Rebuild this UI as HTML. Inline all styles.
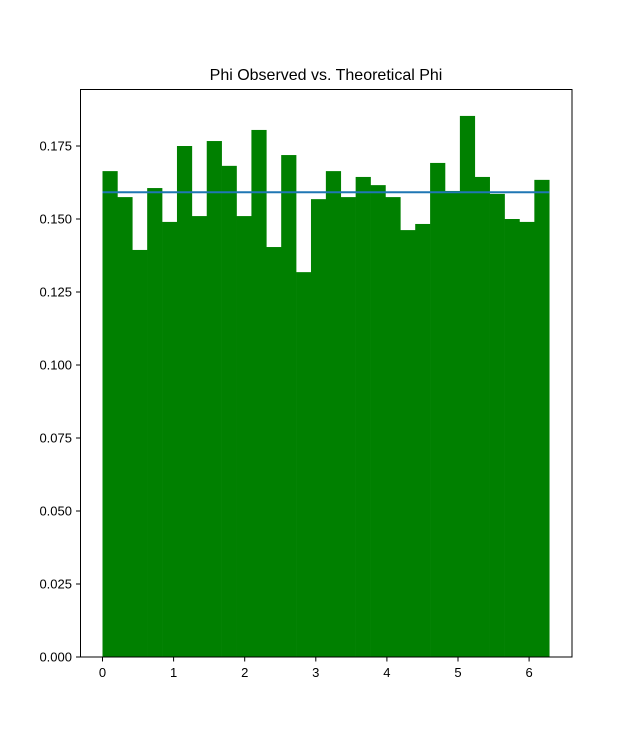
<!DOCTYPE html>
<html><head><meta charset="utf-8"><style>
body{margin:0;background:#fff;}
svg text{font-family:"Liberation Sans","DejaVu Sans",sans-serif;}
</style></head><body>
<svg id="chart" width="636" height="738" xmlns="http://www.w3.org/2000/svg">
<rect width="636" height="738" fill="#fff"/>
<text x="326" y="80" font-size="16" text-anchor="middle">Phi Observed vs. Theoretical Phi</text>
<g id="bars"></g>
<g id="ticks"></g>
<line id="theory" stroke="#1f77b4" stroke-width="2"/>
<rect x="80.5" y="89.5" width="491.5" height="567.5" fill="none" stroke="#000" stroke-width="1"/>
</svg>
<script>
const binCount = 30;
const xMax = 2*Math.PI;
const densities = [0.1664,0.1575,0.1394,0.1606,0.1490,0.1750,0.1510,0.1767,0.1682,0.1510,0.1805,0.1404,0.1719,0.1318,0.1568,0.1664,0.1575,0.1644,0.1616,0.1575,0.1462,0.1483,0.1692,0.1596,0.1853,0.1644,0.1586,0.1500,0.1490,0.1634];
const theoretical = [1/(2*Math.PI)];
const xTicks = [0,1,2,3,4,5,6];
const yTicks = [0,0.025,0.05,0.075,0.1,0.125,0.15,0.175];
const yTickLabels = ["0.000","0.025","0.050","0.075","0.100","0.125","0.150","0.175"];

const NS="http://www.w3.org/2000/svg";
const X = v => 102.5 + v*71.1;
const Y = v => 657 - v*2920;
const bars=document.getElementById('bars');
const w = xMax/binCount;
densities.forEach((d,i)=>{
  const r=document.createElementNS(NS,'rect');
  r.setAttribute('x',X(i*w));
  r.setAttribute('width',X((i+1)*w)-X(i*w)+0.3);
  r.setAttribute('y',Y(d));
  r.setAttribute('height',Y(0)-Y(d));
  r.setAttribute('fill','#008000');
  
  
  bars.appendChild(r);
});
const ln=document.getElementById('theory');
ln.setAttribute('x1',X(0));ln.setAttribute('x2',X(xMax));
ln.setAttribute('y1',Y(theoretical[0]));ln.setAttribute('y2',Y(theoretical[0]));
const tk=document.getElementById('ticks');
xTicks.forEach(t=>{
  const l=document.createElementNS(NS,'line');
  l.setAttribute('x1',X(t));l.setAttribute('x2',X(t));l.setAttribute('y1',657);l.setAttribute('y2',661.5);l.setAttribute('stroke','#000');
  
  
  tk.appendChild(l);
  const s=document.createElementNS(NS,'text');
  s.setAttribute('x',X(t));s.setAttribute('y',677);s.setAttribute('font-size','13');s.setAttribute('text-anchor','middle');
  s.textContent=t;
  
  
  tk.appendChild(s);
});
yTicks.forEach((t,i)=>{
  const l=document.createElementNS(NS,'line');
  l.setAttribute('x1',76);l.setAttribute('x2',80.5);l.setAttribute('y1',Y(t));l.setAttribute('y2',Y(t));l.setAttribute('stroke','#000');
  
  
  tk.appendChild(l);
  const s=document.createElementNS(NS,'text');
  s.setAttribute('x',72);s.setAttribute('y',Y(t)+4.5);s.setAttribute('font-size','13');s.setAttribute('text-anchor','end');
  s.textContent=yTickLabels[i];
  
  
  tk.appendChild(s);
});
</script>
</body></html>
